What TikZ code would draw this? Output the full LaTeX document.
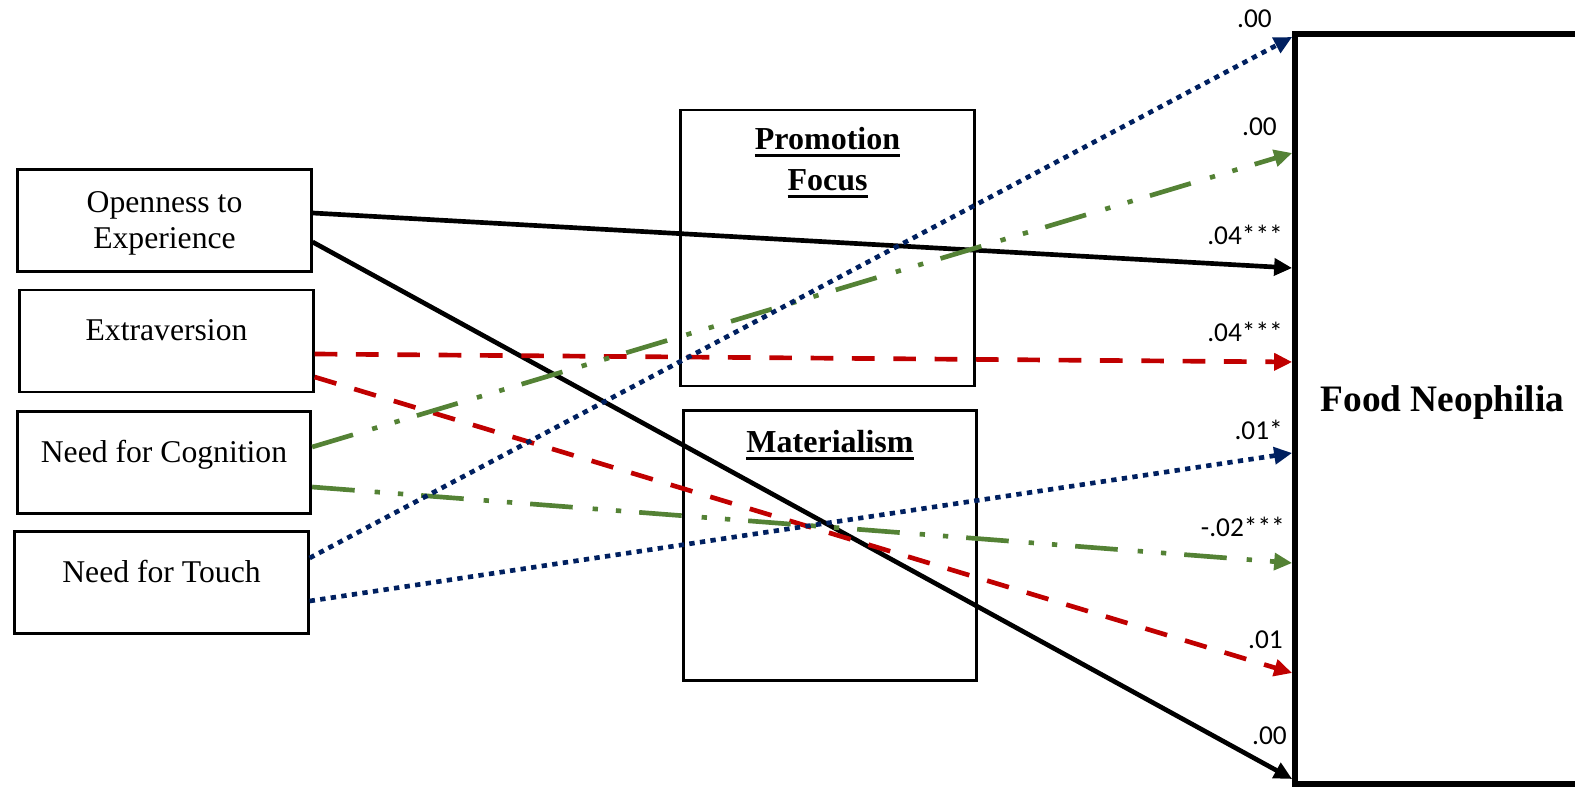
\documentclass[tikz,border=0pt]{standalone}
\usepackage{fontspec}
\setmainfont{Liberation Serif}
\newfontfamily\coeffont{Carlito}
\usepackage{tikz}
\usetikzlibrary{arrows.meta,positioning,calc}

\definecolor{navyblue}{HTML}{002060}
\definecolor{darkred}{HTML}{C00000}
\definecolor{leafgreen}{HTML}{548235}

% thick underline for the mediator titles
\newcommand{\undl}[1]{\setbox0\hbox{#1}\rlap{\rule[-5.5pt]{\wd0}{2.2pt}}\box0}

\tikzset{
  trait/.style={draw, line width=2.2pt, minimum width=220pt, minimum height=76.5pt,
    inner sep=0pt, align=center, font=\fontsize{23.75}{27}\selectfont},
  oneline/.style={text height=12pt, text depth=12pt},
  mediator/.style={draw, line width=2.2pt, minimum width=220pt, inner sep=0pt},
  medtitle/.style={inner sep=0pt, align=center, font=\fontsize{24}{30.75}\selectfont\bfseries},
  outcome/.style={draw, line width=4.5pt, minimum width=221pt, minimum height=562.5pt,
    inner sep=0pt, text height=19pt, text depth=14.5pt,
    font=\fontsize{28}{34}\selectfont\bfseries},
  effect/.style={line width=3.5pt, -{Triangle[length=13.5pt,width=12.5pt]}},
  openarrow/.style={effect, black},
  extraarrow/.style={effect, darkred, dash pattern=on 17pt off 14pt},
  cogarrow/.style={effect, leafgreen,
    dash pattern=on 32pt off 15pt on 4pt off 13.5pt on 4pt off 13.5pt},
  toucharrow/.style={effect, navyblue, dash pattern=on 4pt off 4pt},
  coef/.style={anchor=base east, inner sep=0pt, font=\coeffont\fontsize{20.5}{24}\selectfont}
}

\begin{document}
\begin{tikzpicture}[x=0.75pt,y=-0.75pt]
  \useasboundingbox (0,0) rectangle (1575,787);

  % predictors
  \node[trait, text depth=0pt] (open) at (164.5,220.5) {Openness to\\Experience};
  \node[trait, oneline] (extra) at (166.5,341) {Extraversion};
  \node[trait, oneline] (cogn) at (164,462.5) {Need for Cognition};
  \node[trait, oneline] (touch) at (161.5,582.5) {Need for Touch};

  % mediators
  \node[mediator, minimum height=207pt] (promo) at (827.5,248) {};
  \node[mediator, minimum height=203pt] (mater) at (830,545.5) {};
  \node[medtitle, anchor=base] (promotitle) at ($(promo.north)+(0,82)$)
    {\undl{Promotion}\\\undl{Focus}};
  \node[medtitle, anchor=base] (matertitle) at ($(mater.north)+(0,44)$)
    {\undl{Materialism}};

  % outcome
  \node[outcome] (food) at (1442.5,409) {Food Neophilia};
  \foreach \n/\y in {1/37,2/153,3/268,4/362,5/453,6/563,7/673,8/779}
    \coordinate (t\n) at (food.west |- 0,\y);

  % effects
  \draw[openarrow] ($(open.east)+(0,-7.5)$) -- (t3);
  \draw[openarrow] ($(open.east)+(0,21.5)$) -- (t8);
  \draw[extraarrow] ($(extra.east)+(0,13)$) -- (t4);
  \draw[extraarrow] ($(extra.east)+(0,36)$) -- (t7);
  \draw[cogarrow] ($(cogn.east)+(0,-15.5)$) -- (t2);
  \draw[cogarrow] ($(cogn.east)+(0,24.5)$) -- (t6);
  \draw[toucharrow] ($(touch.east)+(0,-24.5)$) -- (t1);
  \draw[toucharrow] ($(touch.east)+(0,18.5)$) -- (t5);

  % coefficients
  \foreach \n/\x/\y/\v in {1/1272/28/.00, 2/1277/136/.00, 3/1283/245/.04***,
      4/1283/342/.04***, 5/1283/440/.01*, 6/1285/537/-.02***, 7/1283/648/.01,
      8/1287/744/.00}
    \node[coef] (c\n) at (\x,\y) {\v};
\end{tikzpicture}
\end{document}
